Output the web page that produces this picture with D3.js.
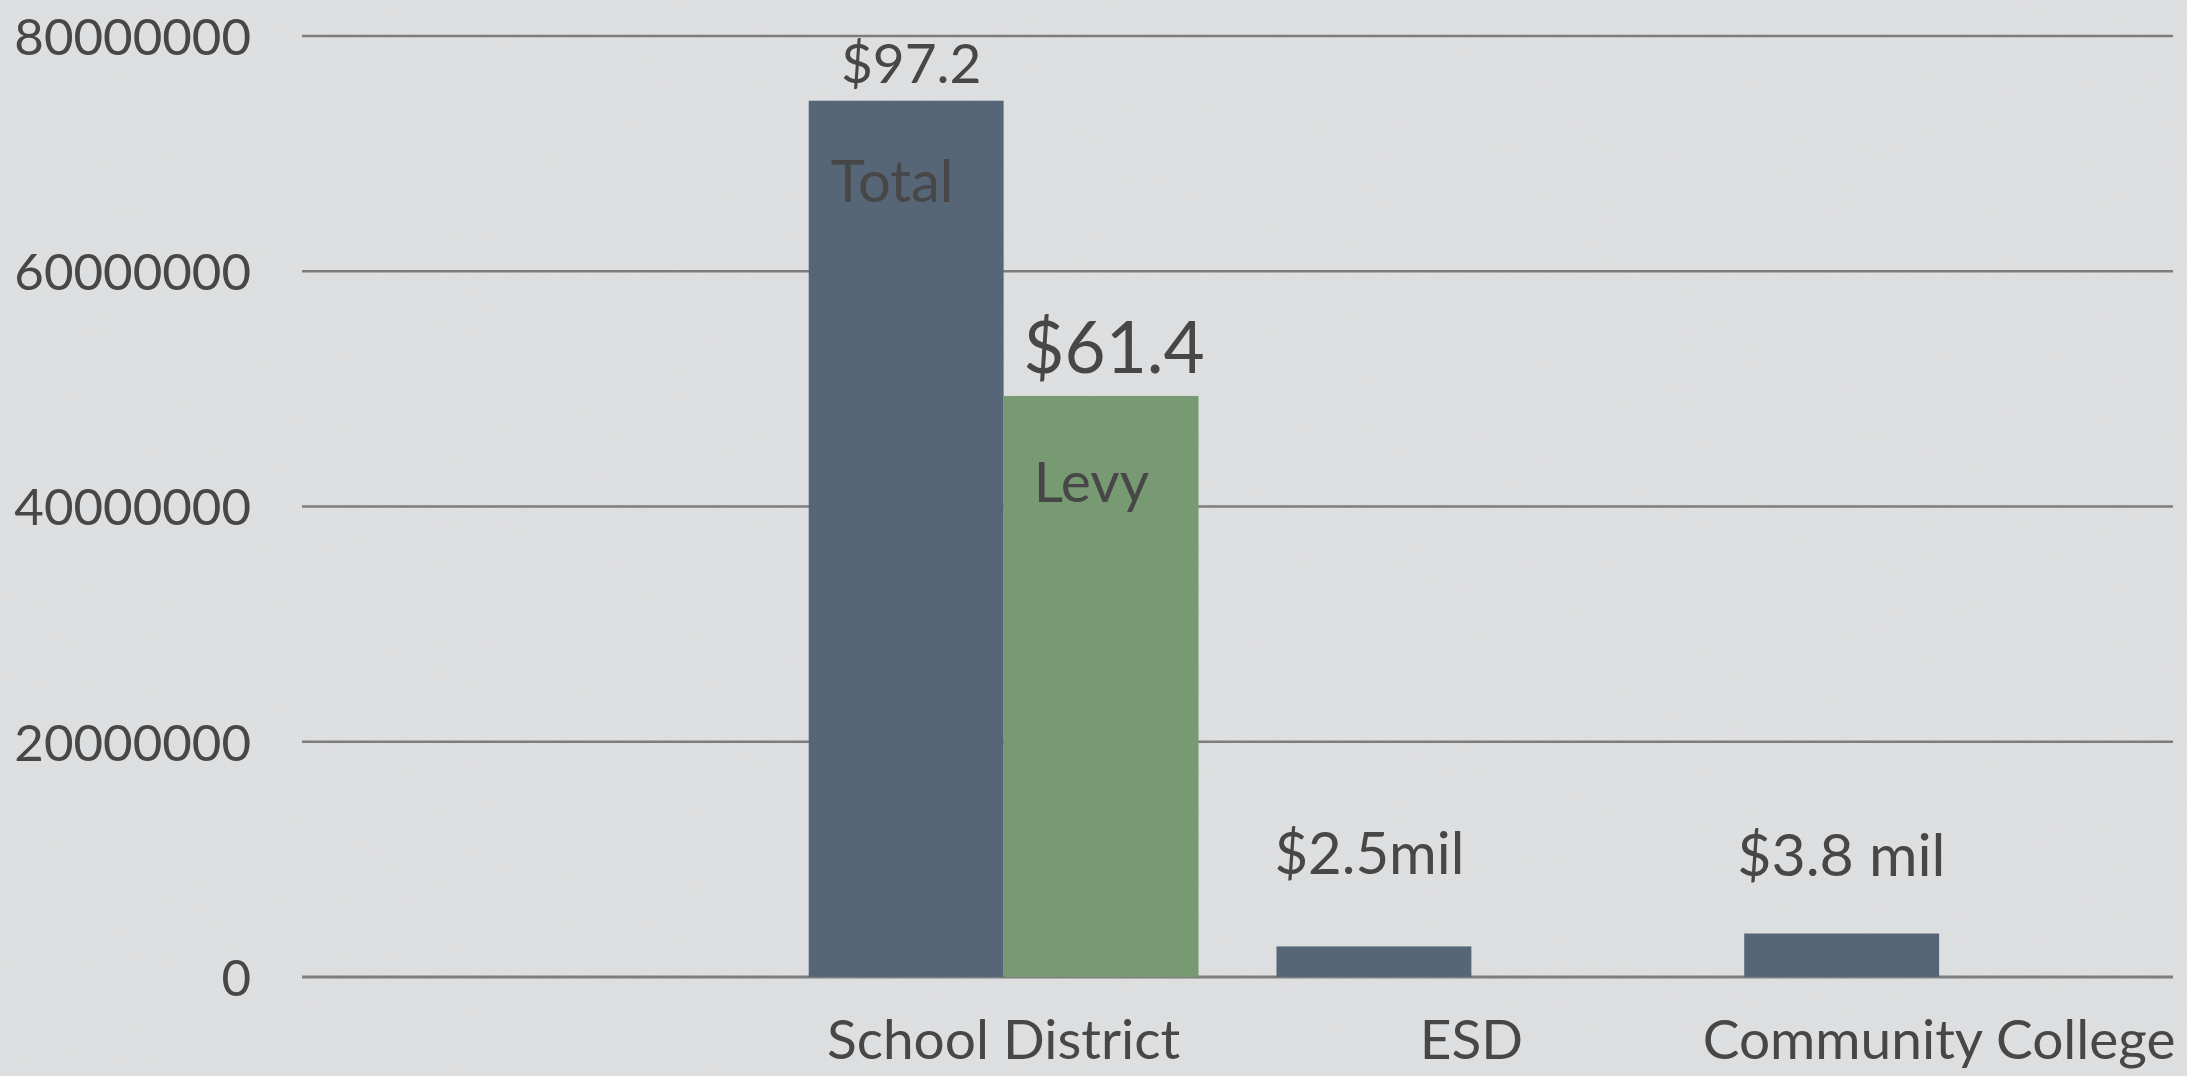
<!DOCTYPE html>
<html>
<head>
<meta charset="utf-8">
<script src="https://cdn.jsdelivr.net/npm/d3@7"></script>
<style>
  html, body { margin: 0; padding: 0; background: #dedfe0; }
  svg { display: block; }
  text { font-family: Lato, "Open Sans", sans-serif; fill: #474747; }
</style>
</head>
<body>
<script>
// ---- data ----
const categories = ["", "School District", "ESD", "Community College"];
const seriesNames = ["Total", "Levy"];
const totalValues = [null, 74.5e6, 2.6e6, 3.7e6];
const levyValues  = [null, 49.4e6, null, null];
const yTicks = [0, 20000000, 40000000, 60000000, 80000000];
const valueLabels = [
  { category: "School District", series: "Total", text: "$97.2" },
  { category: "School District", series: "Levy",  text: "$61.4" },
  { category: "ESD",             series: "Total", text: "$2.5mil" },
  { category: "Community College", series: "Total", text: "$3.8 mil" }
];
const seriesLabels = [
  { category: "School District", series: "Total", text: "Total" },
  { category: "School District", series: "Levy",  text: "Levy" }
];

(function () {
// ---- layout ----
const W = 2187, H = 1076;
const mLeft = 302, mRight = 2173, mTop = 36, mBottom = 977;
const colors = { Total: "#566677", Levy: "#789a72" };

const svg = d3.select("body").append("svg").attr("width", W).attr("height", H);

// subtle paper texture
const defs = svg.append("defs");
const f = defs.append("filter").attr("id", "paper").attr("x", 0).attr("y", 0).attr("width", "100%").attr("height", "100%");
f.append("feTurbulence").attr("type", "fractalNoise").attr("baseFrequency", 0.9).attr("numOctaves", 2).attr("seed", 3).attr("result", "n");
f.append("feColorMatrix").attr("in", "n").attr("type", "matrix")
  .attr("values", "0 0 0 0 0.45  0 0 0 0 0.45  0 0 0 0 0.46  0 0 0 -1.6 0.75");
svg.append("rect").attr("width", W).attr("height", H).attr("fill", "#dedfe0");
svg.append("rect").attr("width", W).attr("height", H).attr("filter", "url(#paper)").attr("opacity", 0.25);

const x = d3.scaleBand().domain(categories).range([mLeft, mRight]).paddingInner(0).paddingOuter(0);
const x1 = d3.scaleBand().domain(seriesNames).range([0, x.bandwidth()]).paddingInner(0).paddingOuter(0.2);
const y = d3.scaleLinear().domain([0, 80000000]).range([mBottom, mTop]);

// gridlines
svg.append("g").selectAll("line").data(yTicks).join("line")
  .attr("x1", mLeft).attr("x2", mRight)
  .attr("y1", d => y(d)).attr("y2", d => y(d))
  .attr("stroke", "#7d7d7d").attr("stroke-width", d => d === 0 ? 3 : 2.5);

// y-axis labels
const yAxis = d3.axisLeft(y).tickValues(yTicks).tickFormat(d3.format("d")).tickSize(0).tickPadding(0);
const gy = svg.append("g").attr("transform", `translate(251,0)`).call(yAxis);
gy.select(".domain").remove();
gy.selectAll("text").attr("font-size", 51).attr("font-family", "Lato, sans-serif")
  .attr("fill", "#474747").attr("dy", "0.36em");

// bars
const data = [];
categories.forEach((c, i) => {
  if (totalValues[i] != null) data.push({ c, s: "Total", v: totalValues[i] });
  if (levyValues[i] != null) data.push({ c, s: "Levy", v: levyValues[i] });
});
svg.append("g").selectAll("rect").data(data).join("rect")
  .attr("x", d => x(d.c) + x1(d.s))
  .attr("width", x1.bandwidth())
  .attr("y", d => y(d.v))
  .attr("height", d => y(0) - y(d.v))
  .attr("fill", d => colors[d.s]);

// category labels
const xAxis = d3.axisBottom(x).tickSize(0).tickPadding(0);
const gx = svg.append("g").attr("transform", `translate(0,1059)`).call(xAxis);
gx.select(".domain").remove();
gx.selectAll("text").attr("font-size", 55).attr("font-family", "Lato, sans-serif")
  .attr("fill", "#474747").attr("dy", 0).attr("y", 0);

// value labels
const valueStyle = {
  "$97.2":   { size: 55, dx: 5,  dy: -18, anchor: "middle" },
  "$61.4":   { size: 71, dx: 13, dy: -23, anchor: "middle" },
  "$2.5mil": { size: 58, dx: -2, dy: -72, anchor: "start" },
  "$3.8 mil":{ size: 59, dx: -7, dy: -57, anchor: "start" }
};
const valOf = (c, s) => {
  const i = categories.indexOf(c);
  return s === "Total" ? totalValues[i] : levyValues[i];
};
svg.append("g").selectAll("text").data(valueLabels).join("text")
  .attr("x", d => {
    const st = valueStyle[d.text];
    const bx = x(d.category) + x1(d.series);
    return (st.anchor === "middle" ? bx + x1.bandwidth() / 2 : bx) + st.dx;
  })
  .attr("y", d => y(valOf(d.category, d.series)) + valueStyle[d.text].dy)
  .attr("text-anchor", d => valueStyle[d.text].anchor)
  .attr("font-size", d => valueStyle[d.text].size)
  .text(d => d.text);

// series labels inside bars
const seriesStyle = { Total: { size: 58, dx: 22, dy: 101 }, Levy: { size: 57, dx: 30, dy: 106 } };
svg.append("g").selectAll("text").data(seriesLabels).join("text")
  .attr("x", d => x(d.category) + x1(d.series) + seriesStyle[d.series].dx)
  .attr("y", d => y(valOf(d.category, d.series)) + seriesStyle[d.series].dy)
  .attr("font-size", d => seriesStyle[d.series].size)
  .text(d => d.text);
})();
</script>
</body>
</html>
